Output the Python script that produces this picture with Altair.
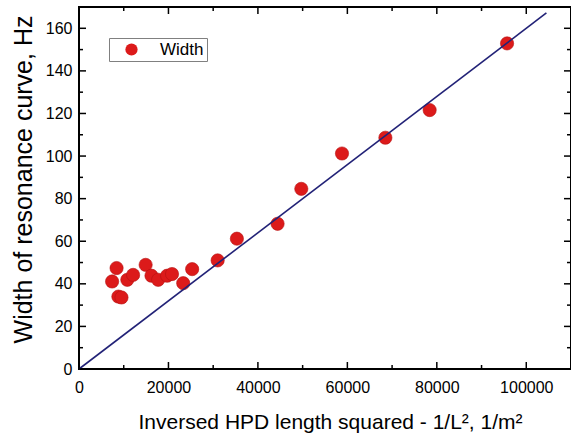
import altair as alt
import pandas as pd

# ---- data ----
x_vals = [7400, 8400, 8800, 9500, 10800, 12100, 14900, 16200, 17700, 19700, 20800,
          23300, 25300, 31000, 35300, 44400, 49700, 58800, 68500, 78400, 95700]
y_vals = [41.1, 47.4, 34.0, 33.6, 41.9, 44.2, 48.9, 43.8, 41.9, 43.8, 44.6,
          40.3, 46.9, 51.0, 61.2, 68.2, 84.6, 101.2, 108.6, 121.6, 152.9]
series = ["Width"] * len(x_vals)

fit_x = [0, 104500]
fit_y = [0, 167.2]

x_major = [0, 20000, 40000, 60000, 80000, 100000]
x_minor = [10000, 30000, 50000, 70000, 90000]
y_major = [0, 20, 40, 60, 80, 100, 120, 140, 160]
y_minor = [10, 30, 50, 70, 90, 110, 130, 150]

W, H = 492, 362
FONT = "Liberation Sans"

xs = alt.Scale(domain=[0, 110000], nice=False, zero=False)
ys = alt.Scale(domain=[0, 170], nice=False, zero=False)

X_AXIS = alt.Axis(
    values=x_major, format="d",
    title="Inversed HPD length squared - 1/L², 1/m²",
    labelFontSize=16, labelFont=FONT, labelColor="black", labelPadding=10,
    labelFlush=False, labelOverlap=False,
    titleFontSize=21, titleFont=FONT, titleFontWeight="normal", titleColor="black",
    titleBaseline="alphabetic", titleX=251, titleY=59,
    domain=False, ticks=False, grid=False)
Y_AXIS = alt.Axis(
    values=y_major, format="d",
    title="Width of resonance curve, Hz",
    labelFontSize=16, labelFont=FONT, labelColor="black", labelPadding=7,
    labelFlush=False, labelOverlap=False,
    titleFontSize=25, titleFont=FONT, titleFontWeight="normal", titleColor="black",
    titleAngle=270, titleBaseline="alphabetic", titleX=-48, titleY=172,
    domain=False, ticks=False, grid=False)

pts_df = pd.DataFrame({"x": x_vals, "y": y_vals, "series": series})
fit_df = pd.DataFrame({"x": fit_x, "y": fit_y})

points = alt.Chart(pts_df).mark_circle(
    size=175, opacity=1, stroke="#b51010", strokeWidth=0.6
).encode(
    x=alt.X("x:Q", scale=xs, axis=X_AXIS),
    y=alt.Y("y:Q", scale=ys, axis=Y_AXIS),
    color=alt.Color("series:N",
                    scale=alt.Scale(domain=["Width"], range=["#dc1a1a"]),
                    legend=alt.Legend(
                        title=None, orient="none", legendX=30, legendY=31,
                        strokeColor="#808080", fillColor="white", padding=3,
                        symbolType="circle", symbolSize=150, symbolStrokeWidth=0,
                        symbolOffset=11, labelOffset=20,
                        labelFont=FONT, labelFontSize=17, labelColor="black")),
)

fit = alt.Chart(fit_df).mark_line(color="#222277", strokeWidth=1.6).encode(
    x=alt.X("x:Q", scale=xs, axis=X_AXIS),
    y=alt.Y("y:Q", scale=ys, axis=Y_AXIS),
)


def tick_layer(vals, orient, length):
    if orient in ("bottom", "top"):
        df = pd.DataFrame({"x": vals})
        enc = dict(x=alt.X("x:Q", scale=xs, axis=X_AXIS))
        if orient == "bottom":
            enc.update(y=alt.value(H), y2=alt.value(H - length))
        else:
            enc.update(y=alt.value(0), y2=alt.value(length))
    else:
        df = pd.DataFrame({"y": vals})
        enc = dict(y=alt.Y("y:Q", scale=ys, axis=Y_AXIS))
        if orient == "left":
            enc.update(x=alt.value(0), x2=alt.value(length))
        else:
            enc.update(x=alt.value(W), x2=alt.value(W - length))
    return alt.Chart(df).mark_rule(color="black", strokeWidth=1.5).encode(**enc)


ticks = []
for o in ("bottom", "top"):
    ticks.append(tick_layer(x_major, o, 7))
    ticks.append(tick_layer(x_minor, o, 4))
for o in ("left", "right"):
    ticks.append(tick_layer(y_major, o, 7))
    ticks.append(tick_layer(y_minor, o, 4))

chart = alt.layer(points, fit, *ticks).properties(
    width=W, height=H,
    padding={"left": 79, "top": 7, "right": 0, "bottom": 67},
    autosize=alt.AutoSizeParams(type="none"),
    background="white",
).configure_view(stroke="black", strokeWidth=2)

chart.save("out.html", embed_options={"renderer": "svg", "actions": False})
